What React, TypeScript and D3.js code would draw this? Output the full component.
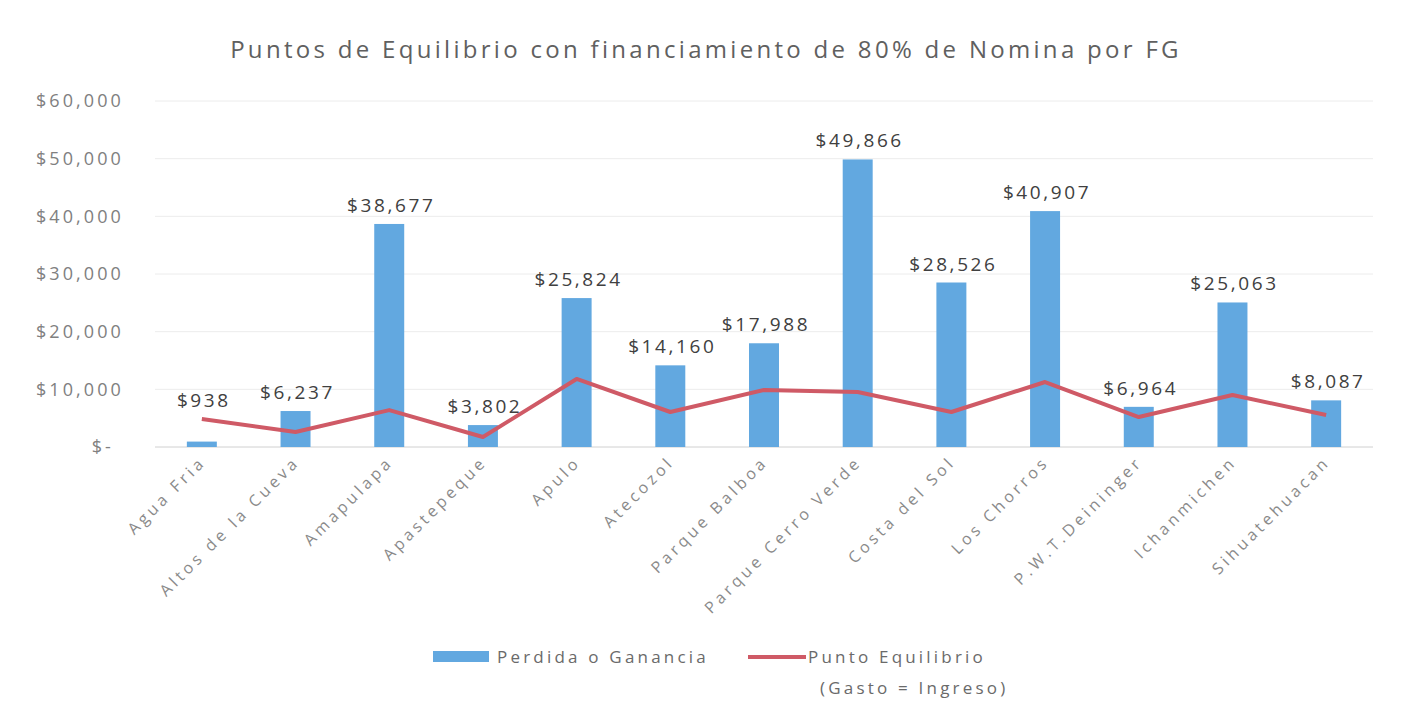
import React, { useEffect, useRef } from "react";
import * as d3 from "d3";

const categories = [
  "Agua Fria",
  "Altos de la Cueva",
  "Amapulapa",
  "Apastepeque",
  "Apulo",
  "Atecozol",
  "Parque Balboa",
  "Parque Cerro Verde",
  "Costa del Sol",
  "Los Chorros",
  "P.W.T.Deininger",
  "Ichanmichen",
  "Sihuatehuacan",
];
const perdidaGanancia = [938, 6237, 38677, 3802, 25824, 14160, 17988, 49866, 28526, 40907, 6964, 25063, 8087];
const puntoEquilibrio = [4850, 2600, 6400, 1730, 11800, 6070, 9880, 9530, 6070, 11270, 5200, 9010, 5550];
const yTicks = [0, 10000, 20000, 30000, 40000, 50000, 60000];

const W = 1408;
const H = 724;
const FONT = "'Open Sans', sans-serif";

export default function App() {
  const svgRef = useRef<SVGSVGElement>(null);

  useEffect(() => {
    const svg = d3.select(svgRef.current);
    svg.selectAll("*").remove();

    const x = d3
      .scaleBand<string>()
      .domain(categories)
      .range([155, 1373])
      .paddingInner(0.68)
      .paddingOuter(0.34);
    const y = d3.scaleLinear().domain([0, 60000]).range([447, 101]);

    svg.append("rect").attr("width", W).attr("height", H).attr("fill", "#ffffff");

    // title
    svg
      .append("text")
      .attr("x", 706)
      .attr("y", 58)
      .attr("text-anchor", "middle")
      .attr("font-size", 24)
      .attr("letter-spacing", 3.3)
      .attr("fill", "#606060")
      .text("Puntos de Equilibrio con financiamiento de 80% de Nomina por FG");

    // gridlines
    svg
      .append("g")
      .selectAll("line")
      .data(yTicks)
      .join("line")
      .attr("x1", 155)
      .attr("x2", 1373)
      .attr("y1", (d) => y(d))
      .attr("y2", (d) => y(d))
      .attr("stroke", (d) => (d === 0 ? "#d0d0d0" : "#ececec"))
      .attr("stroke-width", 1);

    // y axis labels
    const yAxis = d3
      .axisLeft(y)
      .tickValues(yTicks)
      .tickSize(0)
      .tickPadding(0)
      .tickFormat((d) => (+d === 0 ? "$-" : d3.format("$,")(+d)));
    const ya = svg.append("g").attr("transform", "translate(124,0)").call(yAxis);
    ya.select(".domain").remove();
    ya.selectAll("text")
      .attr("font-size", 18)
      .attr("font-family", FONT)
      .attr("letter-spacing", 3.1)
      .attr("fill", "#808080")
      .attr("dx", (d: any) => (d === 0 ? -10 : 0));

    // bars
    svg
      .append("g")
      .selectAll("rect")
      .data(perdidaGanancia)
      .join("rect")
      .attr("x", (_, i) => x(categories[i])!)
      .attr("width", x.bandwidth())
      .attr("y", (d) => y(d))
      .attr("height", (d) => y(0) - y(d))
      .attr("fill", "#62a8e0");

    // line
    const line = d3
      .line<number>()
      .x((_, i) => x(categories[i])! + x.bandwidth() / 2)
      .y((d) => y(d));
    svg
      .append("path")
      .datum(puntoEquilibrio)
      .attr("d", line)
      .attr("fill", "none")
      .attr("stroke", "#cf5a66")
      .attr("stroke-width", 4)
      .attr("stroke-linejoin", "round");

    // data labels
    svg
      .append("g")
      .selectAll("text")
      .data(perdidaGanancia)
      .join("text")
      .attr("x", (_, i) => x(categories[i])! + x.bandwidth() / 2 + 2)
      .attr("y", (d, i) => Math.min(y(d), y(puntoEquilibrio[i])) - 12)
      .attr("text-anchor", "middle")
      .attr("font-size", 19)
      .attr("letter-spacing", 2.6)
      .attr("fill", "#404040")
      .text((d) => d3.format("$,")(d));

    // x labels
    svg
      .append("g")
      .selectAll("text")
      .data(categories)
      .join("text")
      .attr(
        "transform",
        (d) => `translate(${x(d)! + x.bandwidth() / 2 + 5},${463}) rotate(-45)`
      )
      .attr("text-anchor", "end")
      .attr("font-size", 16)
      .attr("letter-spacing", 3.7)
      .attr("fill", "#8a8a8a")
      .text((d) => d);

    // legend
    const lg = svg.append("g").attr("font-size", 17).attr("letter-spacing", 3.2).attr("fill", "#6a6a6a");
    lg.append("rect").attr("x", 433).attr("y", 651).attr("width", 56).attr("height", 11).attr("fill", "#62a8e0");
    lg.append("text").attr("x", 497).attr("y", 663).text("Perdida o Ganancia");
    lg.append("line")
      .attr("x1", 748)
      .attr("x2", 806)
      .attr("y1", 657)
      .attr("y2", 657)
      .attr("stroke", "#cf5a66")
      .attr("stroke-width", 4);
    lg.append("text").attr("x", 808).attr("y", 663).text("Punto Equilibrio");
    lg.append("text").attr("x", 820).attr("y", 694).text("(Gasto = Ingreso)");
  }, []);

  return (
    <svg
      ref={svgRef}
      width={W}
      height={H}
      fontFamily={FONT}
      style={{ position: "absolute", left: 0, top: 0 }}
    />
  );
}
